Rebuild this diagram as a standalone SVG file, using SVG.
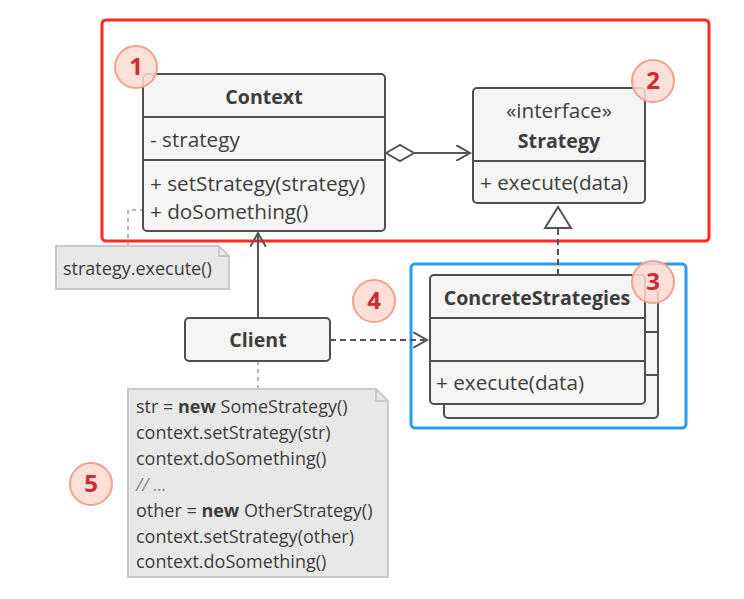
<svg xmlns="http://www.w3.org/2000/svg" width="744" height="599" viewBox="0 0 744 599">
  <style>
    .box { fill: #f5f5f5; stroke: #4f4f4f; stroke-width: 2; }
    .div { stroke: #4f4f4f; stroke-width: 2; }
    .t { font-family: "Open Sans", "Liberation Sans", sans-serif; font-size: 20.7px; fill: #3d3d3d; }
    .b { font-weight: bold; font-size: 19.6px; }
    .c { text-anchor: middle; }
    .note { fill: #e8e8e8; stroke: #c9c9c9; stroke-width: 2; }
    .nt { font-family: "Open Sans", "Liberation Sans", sans-serif; font-size: 18px; fill: #3d3d3d; }
    .link { fill: none; stroke: #555; stroke-width: 2; }
    .dash { fill: none; stroke: #555; stroke-width: 2; stroke-dasharray: 6 4; }
    .dot { fill: none; stroke: #b5b5b5; stroke-width: 2; stroke-dasharray: 4 4; }
    .badge circle { fill: #fcd9cf; fill-opacity: 0.85; stroke: #f5a08e; stroke-width: 2; }
    .badge text { font-family: "Open Sans", "Liberation Sans", sans-serif; font-size: 24px; font-weight: bold; fill: #cc2a36; text-anchor: middle; }
  </style>
  <defs>
    <marker id="open" markerWidth="16" markerHeight="16" refX="14" refY="8" orient="auto" markerUnits="userSpaceOnUse">
      <path d="M0,0 L14,8 L0,16" fill="none" stroke="#555" stroke-width="2"/>
    </marker>
  </defs>

  <!-- grouping frames -->
  <rect x="102" y="20" width="607" height="221" rx="4" fill="none" stroke="#ff2a1f" stroke-width="3"/>
  <rect x="411" y="264" width="275" height="164" rx="4" fill="none" stroke="#2b9bf0" stroke-width="3"/>

  <g id="connectors">
    <path class="dot" d="M128,246 V210 H143"/>
    <path class="dot" d="M258,361 V389"/>
    <path class="link" d="M414,153 H470" marker-end="url(#open)"/>
    <path d="M386,153 L400,145 L414,153 L400,161 Z" fill="#fff" stroke="#555" stroke-width="2"/>
    <path class="link" d="M258,317 V233" marker-end="url(#open)"/>
    <path class="dash" d="M330,340 H427" marker-end="url(#open)"/>
    <path class="dash" d="M558,275 V228"/>
    <path d="M558,207 L571,228 L545,228 Z" fill="#fff" stroke="#555" stroke-width="2"/>
  </g>

  <g id="context">
    <rect class="box" x="143" y="74" width="242" height="157" rx="4"/>
    <line class="div" x1="143" y1="117" x2="385" y2="117"/>
    <line class="div" x1="143" y1="160" x2="385" y2="160"/>
    <text class="t b c" x="264" y="104">Context</text>
    <text class="t" x="150" y="147">- strategy</text>
    <text class="t" x="150" y="191">+ setStrategy(strategy)</text>
    <text class="t" x="150" y="219">+ doSomething()</text>
  </g>

  <g id="strategy">
    <rect class="box" x="473" y="88" width="172" height="115" rx="4"/>
    <line class="div" x1="473" y1="161" x2="645" y2="161"/>
    <text class="t c" x="559" y="118">«interface»</text>
    <text class="t b c" x="559" y="148">Strategy</text>
    <text class="t" x="480" y="190">+ execute(data)</text>
  </g>

  <g id="concrete-strategies">
    <rect class="box" x="444" y="289" width="214" height="129" rx="4"/>
    <line class="div" x1="645" y1="332" x2="658" y2="332"/>
    <line class="div" x1="645" y1="375" x2="658" y2="375"/>
    <rect class="box" x="430" y="275" width="215" height="129" rx="4"/>
    <line class="div" x1="430" y1="318" x2="645" y2="318"/>
    <line class="div" x1="430" y1="361" x2="645" y2="361"/>
    <text class="t b c" x="537" y="305">ConcreteStrategies</text>
    <text class="t" x="436" y="390">+ execute(data)</text>
  </g>

  <g id="client">
    <rect class="box" x="185" y="318" width="145" height="43" rx="4"/>
    <text class="t b c" x="258" y="347">Client</text>
  </g>

  <g id="note-execute">
    <path class="note" d="M56,246 H219 L229,256 V289 H56 Z"/>
    <path d="M219,246 V256 H229" fill="none" stroke="#c9c9c9" stroke-width="2"/>
    <text class="nt" x="63" y="275">strategy.execute()</text>
  </g>

  <g id="note-client">
    <path class="note" d="M128,389 H376 L388,401 V577 H128 Z"/>
    <path d="M376,389 V401 H388" fill="none" stroke="#c9c9c9" stroke-width="2"/>
    <text class="nt" x="136" y="413">str = <tspan font-weight="bold">new</tspan> SomeStrategy()</text>
    <text class="nt" x="136" y="439">context.setStrategy(str)</text>
    <text class="nt" x="136" y="465">context.doSomething()</text>
    <text class="nt" x="136" y="491" font-style="italic" style="fill:#8a8a8a">// ...</text>
    <text class="nt" x="136" y="517">other = <tspan font-weight="bold">new</tspan> OtherStrategy()</text>
    <text class="nt" x="136" y="543">context.setStrategy(other)</text>
    <text class="nt" x="136" y="568">context.doSomething()</text>
  </g>

  <g id="badge-1" class="badge"><circle cx="136" cy="67" r="21"/><text x="136" y="75">1</text></g>
  <g id="badge-2" class="badge"><circle cx="653" cy="81" r="21"/><text x="653" y="89">2</text></g>
  <g id="badge-3" class="badge"><circle cx="653" cy="282" r="21"/><text x="653" y="290">3</text></g>
  <g id="badge-4" class="badge"><circle cx="374" cy="301" r="21"/><text x="374" y="309">4</text></g>
  <g id="badge-5" class="badge"><circle cx="91" cy="484" r="21"/><text x="91" y="492">5</text></g>
</svg>
